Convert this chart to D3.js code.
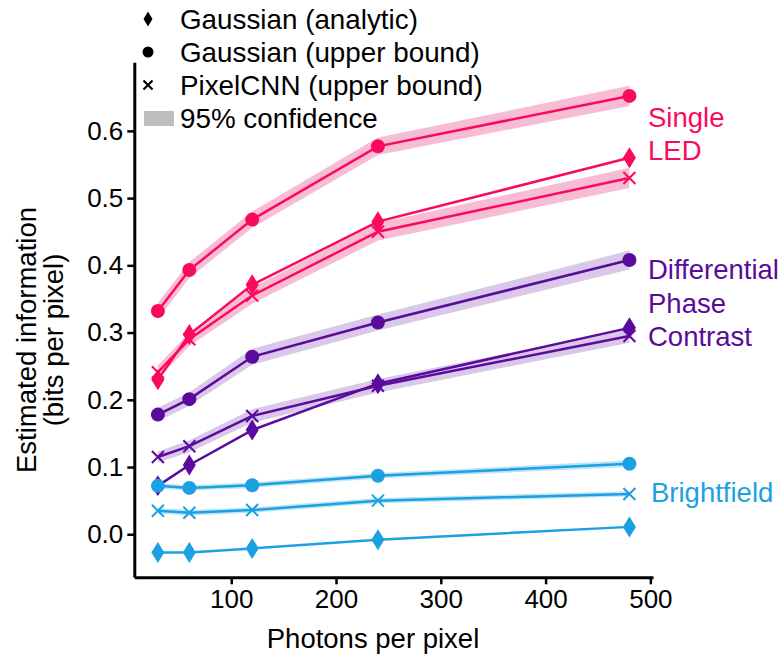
<!DOCTYPE html>
<html><head><meta charset="utf-8">
<script src="https://cdn.jsdelivr.net/npm/d3@7"></script>
<style>body{margin:0;background:#fff}text{font-family:"Liberation Sans",Arial,sans-serif}</style>
</head><body><svg id="c" width="782" height="655"></svg>
<script>
const photons = [30, 60, 120, 240, 480];
const xTicks = [100, 200, 300, 400, 500];
const yTicks = [0.0, 0.1, 0.2, 0.3, 0.4, 0.5, 0.6];

const ledUpper = [0.332, 0.393, 0.468, 0.577, 0.652];
const ledUpperCI = [0.012, 0.012, 0.012, 0.013, 0.015];
const ledAnalytic = [0.230, 0.297, 0.371, 0.465, 0.560];
const ledPixel = [0.241, 0.290, 0.355, 0.450, 0.530];
const ledPixelCI = [0.010, 0.010, 0.012, 0.013, 0.015];

const dpcUpper = [0.178, 0.201, 0.264, 0.315, 0.408];
const dpcUpperCI = [0.010, 0.010, 0.012, 0.012, 0.014];
const dpcAnalytic = [0.072, 0.103, 0.155, 0.224, 0.307];
const dpcPixel = [0.115, 0.131, 0.176, 0.221, 0.295];
const dpcPixelCI = [0.008, 0.009, 0.010, 0.010, 0.010];

const bfUpper = [0.072, 0.069, 0.073, 0.087, 0.105];
const bfUpperCI = [0.004, 0.004, 0.004, 0.004, 0.005];
const bfAnalytic = [-0.027, -0.027, -0.021, -0.008, 0.011];
const bfPixel = [0.035, 0.032, 0.036, 0.050, 0.060];
const bfPixelCI = [0.004, 0.004, 0.004, 0.004, 0.004];

const groups = [
  {name: ["Single", "LED"], color: "#fa0a5f", band: "#f7b6cf", upper: ledUpper, upperCI: ledUpperCI, analytic: ledAnalytic, pixel: ledPixel, pixelCI: ledPixelCI, labelY: [127, 160]},
  {name: ["Differential", "Phase", "Contrast"], color: "#5a0a9c", band: "#d6c2e6", upper: dpcUpper, upperCI: dpcUpperCI, analytic: dpcAnalytic, pixel: dpcPixel, pixelCI: dpcPixelCI, labelY: [279, 313, 346]},
  {name: ["Brightfield"], color: "#1ba1e2", band: "#b8e1f6", upper: bfUpper, upperCI: bfUpperCI, analytic: bfAnalytic, pixel: bfPixel, pixelCI: bfPixelCI, labelY: [502]}
];

const svg = d3.select("#c");
const x = d3.scaleLinear().domain([7.5, 502.5]).range([134.3, 653]);
const y = d3.scaleLinear().domain([-0.064, 0.702]).range([577.3, 62.3]);

const line = d3.line().x((d, i) => x(photons[i])).y(d => y(d));
const area = (vals, ci) => d3.area().x((d, i) => x(photons[i])).y0((d, i) => y(vals[i] - ci[i])).y1((d, i) => y(vals[i] + ci[i]))(vals);

function diamond(g, cx, cy, w, h, color) {
  g.append("path").attr("d", `M${cx},${cy - h / 2}L${cx + w / 2},${cy}L${cx},${cy + h / 2}L${cx - w / 2},${cy}Z`).attr("fill", color);
}
function cross(g, cx, cy, s, color, sw) {
  g.append("path").attr("d", `M${cx - s},${cy - s}L${cx + s},${cy + s}M${cx - s},${cy + s}L${cx + s},${cy - s}`).attr("stroke", color).attr("stroke-width", sw).attr("fill", "none");
}

const plot = svg.append("g");
groups.forEach(gr => {
  plot.append("path").attr("d", area(gr.upper, gr.upperCI)).attr("fill", gr.band).attr("opacity", 0.9);
  plot.append("path").attr("d", area(gr.pixel, gr.pixelCI)).attr("fill", gr.band).attr("opacity", 0.9);
});
groups.forEach(gr => {
  [gr.upper, gr.analytic, gr.pixel].forEach(vals => {
    plot.append("path").attr("d", line(vals)).attr("fill", "none").attr("stroke", gr.color).attr("stroke-width", 2.5);
  });
  gr.upper.forEach((v, i) => plot.append("circle").attr("cx", x(photons[i])).attr("cy", y(v)).attr("r", 7).attr("fill", gr.color));
  gr.analytic.forEach((v, i) => diamond(plot, x(photons[i]), y(v), 13, 21, gr.color));
  gr.pixel.forEach((v, i) => cross(plot, x(photons[i]), y(v), 6, gr.color, 2));
  gr.name.forEach((t, k) => svg.append("text").attr("x", gr.name.length === 1 ? 651 : 648).attr("y", gr.labelY[k]).attr("font-size", 27.5).attr("fill", gr.color).text(t));
});

// axes
const xAxis = svg.append("g").attr("transform", "translate(0,577.3)")
  .call(d3.axisBottom(x).tickValues(xTicks).tickFormat(d3.format("d")).tickSize(7).tickSizeOuter(0));
const yAxis = svg.append("g").attr("transform", "translate(134.3,0)")
  .call(d3.axisLeft(y).tickValues(yTicks).tickFormat(d3.format(".1f")).tickSize(7).tickSizeOuter(0));
[xAxis, yAxis].forEach(a => {
  a.select(".domain").attr("stroke", "#000").attr("stroke-width", 3);
  a.selectAll(".tick line").attr("stroke", "#000").attr("stroke-width", 2.5);
  a.selectAll(".tick text").attr("font-size", 26).attr("fill", "#000").attr("font-family", "Liberation Sans, Arial, sans-serif");
});
xAxis.selectAll(".tick text").attr("dy", "0.71em").attr("y", 12);
yAxis.selectAll(".tick text").attr("x", -11);

svg.append("text").attr("x", 373).attr("y", 648).attr("text-anchor", "middle").attr("font-size", 27.5).text("Photons per pixel");
const yl = svg.append("text").attr("transform", "translate(0,340) rotate(-90)").attr("text-anchor", "middle").attr("font-size", 27.5);
yl.append("tspan").attr("x", 0).attr("y", 36).text("Estimated information");
yl.append("tspan").attr("x", 0).attr("y", 63).text("(bits per pixel)");

// legend
const lg = svg.append("g");
const legendItems = ["Gaussian (analytic)", "Gaussian (upper bound)", "PixelCNN (upper bound)", "95% confidence"];
const ly = [19, 52, 85, 118];
diamond(lg, 148, ly[0], 9, 15, "#000");
lg.append("circle").attr("cx", 148).attr("cy", ly[1]).attr("r", 5.5).attr("fill", "#000");
cross(lg, 148, ly[2], 4.5, "#000", 2.2);
lg.append("rect").attr("x", 144).attr("y", ly[3] - 7).attr("width", 30).attr("height", 15).attr("fill", "#bdbdbd");
legendItems.forEach((t, i) => lg.append("text").attr("x", 180).attr("y", ly[i] + 9.5).attr("font-size", 27.8).text(t));
</script></body></html>
